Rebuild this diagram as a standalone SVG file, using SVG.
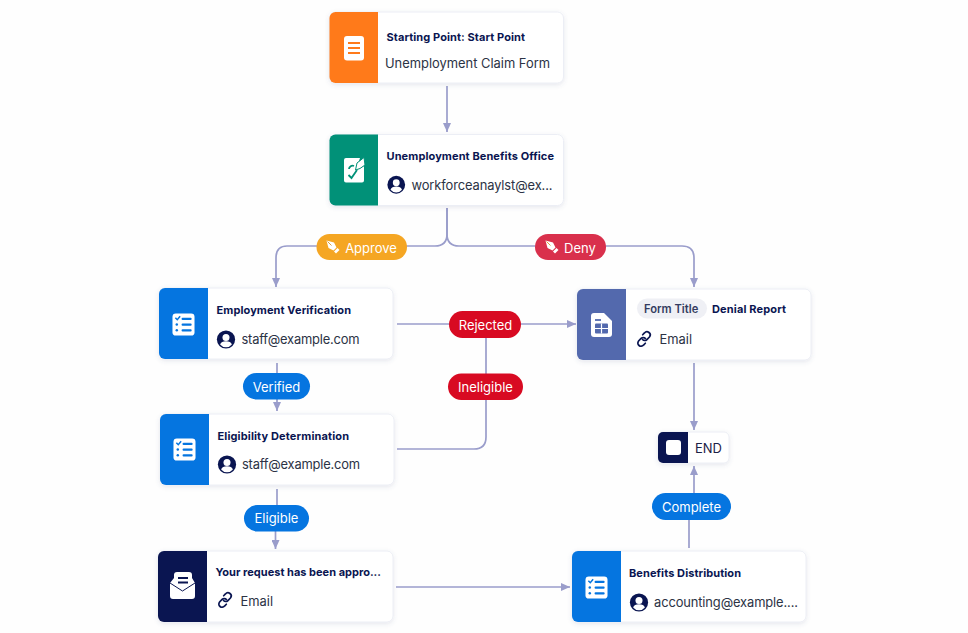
<svg xmlns="http://www.w3.org/2000/svg" width="968" height="633" viewBox="0 0 968 633">
<style>
text{font-family:"Inter","Liberation Sans",sans-serif}
.card{fill:#fff;stroke:#eceef5;stroke-width:1;filter:url(#sh)}
.t{font-size:11px;font-weight:700;fill:#0a1551}
.s{font-size:12.9px;fill:#2c3345}
.pt{font-size:13px;fill:#fff;text-anchor:middle}
.c{fill:none;stroke:#9a9dcb;stroke-width:1.7}
</style>
<defs>
<filter id="sh" x="-10%" y="-15%" width="120%" height="135%"><feDropShadow dx="0" dy="1.5" stdDeviation="2" flood-color="#54598c" flood-opacity="0.14"/></filter>
<marker id="a" markerWidth="10" markerHeight="8" refX="9" refY="4" orient="auto" markerUnits="userSpaceOnUse"><path d="M0 0L9 4L0 8Z" fill="#9a9dcb"/></marker>
<symbol id="user" viewBox="0 0 20 20" overflow="visible"><circle cx="10" cy="10" r="9.6" fill="#0a1551"/><circle cx="10" cy="7.8" r="3.7" fill="#fff"/><path d="M3.800 15.300a6.400 4.600 0 0 1 12.400 0a8 8 0 0 1-12.400 0z" fill="#fff"/></symbol>
<symbol id="link" viewBox="0 0 18 18" overflow="visible"><g fill="none" stroke="#0a1551" stroke-width="1.900" stroke-linecap="round"><path d="M7.500 4.200l2-2a3.500 3.500 0 0 1 5.600 4.600l-2.800 2.800a3.500 3.500 0 0 1-5 0"/><path d="M10.500 13.800l-2 2a3.500 3.500 0 0 1-5.600-4.600l2.800-2.800a3.500 3.500 0 0 1 5 0"/></g></symbol>
<symbol id="list" viewBox="0 0 24 24" overflow="visible"><rect x="0.500" y="0.500" width="23" height="23" rx="3.500" fill="#fff"/><path d="M3.500 5l2 2 3-3.500" fill="none" stroke="#0575e0" stroke-width="1.600"/><g fill="#0575e0"><rect x="10" y="5" width="10.500" height="2.200" rx="1"/><rect x="10" y="11" width="10.500" height="2.200" rx="1"/><rect x="10" y="17" width="10.500" height="2.200" rx="1"/><circle cx="5" cy="12" r="1.300"/><circle cx="5" cy="18" r="1.300"/></g></symbol>
<symbol id="pen" viewBox="0 0 14 14" overflow="visible"><path d="M0.500 0.500L8 2.500L10.500 7.500L7.500 10.500L2.500 8Z" fill="#fff"/><path d="M1.500 1.500L5.500 5.500" stroke="#d9a040" stroke-width="1"/><path d="M8 11.500L11.500 8L13.500 10L10 13.500Z" fill="#fff"/></symbol>
</defs>
<rect width="968" height="633" fill="#fefefe"/>
<g id="connectors">
<path class="c" marker-end="url(#a)" d="M447 86V132"/>
<path class="c" marker-end="url(#a)" d="M447 208V234Q447 246 435 246H287Q276 246 276 258V287"/>
<path class="c" marker-end="url(#a)" d="M447 208V234Q447 246 459 246H682Q694 246 694 258V287"/>
<path class="c" marker-end="url(#a)" d="M397 324H576"/>
<path class="c" d="M397 449H474Q486 449 486 437V335"/>
<path class="c" marker-end="url(#a)" d="M277 363V411"/>
<path class="c" d="M277 489V506"/>
<path class="c" marker-end="url(#a)" d="M275.500 530V549"/>
<path class="c" marker-end="url(#a)" d="M694 363V430"/>
<path class="c" d="M689 548V519"/>
<path class="c" marker-end="url(#a)" d="M694 494V466"/>
<path class="c" marker-end="url(#a)" d="M396 587H570"/>
</g>
<g id="n-start">
<rect class="card" x="329.500" y="12" width="234" height="71" rx="6"/>
<path d="M335.500 12H378V83H335.500a6 6 0 0 1-6-6V18a6 6 0 0 1 6-6z" fill="#ff7a1a"/>
<rect x="344" y="36" width="20" height="24.500" rx="3" fill="#fff"/>
<path d="M348 43H360M348 48H360M348 53H360" stroke="#ff7a1a" stroke-width="2.200"/>
<text class="t" x="386.500" y="41" textLength="138.500">Starting Point: Start Point</text>
<text class="s" x="385" y="67.500" textLength="165">Unemployment Claim Form</text>
</g>
<g id="n-office">
<rect class="card" x="329.500" y="134.500" width="234" height="71" rx="6"/>
<path d="M335.500 134.500H378V205.500H335.500a6 6 0 0 1-6-6V140.500a6 6 0 0 1 6-6z" fill="#019178"/>
<path d="M346 158H360L356 170L364 166V180.500a2 2 0 0 1-2 2H346a2 2 0 0 1-2-2V160a2 2 0 0 1 2-2Z" fill="#fff"/>
<path d="M349 169a3.500 3.500 0 0 1 5-3M348.500 175l3 3 5.500-8" fill="none" stroke="#019178" stroke-width="1.800"/>
<path d="M357 163L364 157.500L365 165L360 168.500L355.500 170Z" fill="#fff" stroke="#019178" stroke-width="1"/>
<text class="t" x="386.500" y="159.500" textLength="167.500">Unemployment Benefits Office</text>
<use href="#user" x="387" y="175.500" width="18.500" height="18.500"/>
<text class="s" x="411.500" y="190" textLength="141">workforceanaylst@ex...</text>
</g>
<g id="n-employment">
<rect class="card" x="159" y="288" width="234" height="71" rx="6"/>
<path d="M165 288H208V359H165a6 6 0 0 1-6-6V294a6 6 0 0 1 6-6z" fill="#0575e0"/>
<use href="#list" x="172" y="313" width="23" height="23"/>
<text class="t" x="216.500" y="314" textLength="134.500">Employment Verification</text>
<use href="#user" x="216.500" y="330" width="19" height="19"/>
<text class="s" x="241.500" y="344" textLength="118">staff@example.com</text>
</g>
<g id="n-eligibility">
<rect class="card" x="160" y="414" width="234" height="71" rx="6"/>
<path d="M166 414H209V485H166a6 6 0 0 1-6-6V420a6 6 0 0 1 6-6z" fill="#0575e0"/>
<use href="#list" x="173" y="438" width="23" height="23"/>
<text class="t" x="217.500" y="439.500" textLength="131.500">Eligibility Determination</text>
<use href="#user" x="217.500" y="455" width="19" height="19"/>
<text class="s" x="242" y="469" textLength="118">staff@example.com</text>
</g>
<g id="n-email">
<rect class="card" x="158" y="551" width="235" height="71" rx="6"/>
<path d="M164 551H207V622H164a6 6 0 0 1-6-6V557a6 6 0 0 1 6-6z" fill="#0a1551"/>
<path d="M170 583L174 578V575a3 3 0 0 1 3-3H189a3 3 0 0 1 3 3V578L195 583V596a3 3 0 0 1-3 3H173a3 3 0 0 1-3-3Z" fill="#fff"/>
<path d="M178 578H188M178 582.500H188" stroke="#0a1551" stroke-width="1.800"/>
<path d="M170 583L182.500 591L195 583" fill="none" stroke="#0a1551" stroke-width="1"/>
<text class="t" x="215.500" y="575.500" textLength="165.500">Your request has been appro...</text>
<use href="#link" x="217" y="592" width="16" height="16"/>
<text class="s" x="240.500" y="605.500">Email</text>
</g>
<g id="n-benefits">
<rect class="card" x="572" y="551" width="234" height="71" rx="6"/>
<path d="M578 551H621V622H578a6 6 0 0 1-6-6V557a6 6 0 0 1 6-6z" fill="#0575e0"/>
<use href="#list" x="585" y="576" width="23" height="23"/>
<text class="t" x="629" y="576.500" textLength="112">Benefits Distribution</text>
<use href="#user" x="629.500" y="593" width="19" height="19"/>
<text class="s" x="654" y="607" textLength="144">accounting@example....</text>
</g>
<g id="n-denial">
<rect class="card" x="577" y="289" width="234" height="71" rx="6"/>
<path d="M583 289H626V360H583a6 6 0 0 1-6-6V295a6 6 0 0 1 6-6z" fill="#5369ad"/>
<path d="M594 313H604L612 321V334a3 3 0 0 1-3 3H594a3 3 0 0 1-3-3V316a3 3 0 0 1 3-3Z" fill="#fff"/>
<path d="M595 320H601" stroke="#5369ad" stroke-width="1.800"/>
<rect x="595" y="323.500" width="13" height="10" rx="1" fill="#5369ad"/>
<path d="M595 328.500H608M601.500 323.500V333.500" stroke="#fff" stroke-width="1.200"/>
<rect x="637" y="298.500" width="70" height="20" rx="10" fill="#eff0f5"/>
<text x="644" y="312.500" font-size="11.200" font-weight="600" fill="#343c60">Form Title</text>
<text class="t" x="712" y="312.500" textLength="74">Denial Report</text>
<use href="#link" x="636" y="331" width="16" height="16"/>
<text class="s" x="659.500" y="343.500">Email</text>
</g>
<g id="n-end">
<rect class="card" x="658" y="432" width="71" height="31" rx="5"/>
<path d="M663 432H688V463H663a5 5 0 0 1-5-5V437a5 5 0 0 1 5-5z" fill="#0a1551"/>
<rect x="666" y="440" width="15" height="15" rx="3" fill="#fff"/>
<text x="695" y="453" font-size="13" fill="#1c2146">END</text>
</g>
<g id="labels">
<g id="l-approve"><rect x="316.500" y="234" width="90.500" height="26" rx="13" fill="#f5a623"/><use href="#pen" x="326" y="240" width="14" height="14"/><text class="pt" x="371" y="252.500">Approve</text></g>
<g id="l-deny"><rect x="535" y="234" width="71" height="26" rx="13" fill="#d9304c"/><use href="#pen" x="545" y="240" width="14" height="14"/><text class="pt" x="580" y="252.500">Deny</text></g>
<g id="l-rejected"><rect x="449" y="311" width="72" height="27" rx="13.500" fill="#d80a22"/><text class="pt" x="485.500" y="329.500">Rejected</text></g>
<g id="l-ineligible"><rect x="448" y="373.500" width="75" height="26.500" rx="13.250" fill="#d80a22"/><text class="pt" x="485.500" y="392">Ineligible</text></g>
<g id="l-verified"><rect x="243" y="373" width="67" height="26.500" rx="13.250" fill="#0575e0"/><text class="pt" x="276.500" y="391.500">Verified</text></g>
<g id="l-eligible"><rect x="244" y="505" width="65" height="26.500" rx="13.250" fill="#0575e0"/><text class="pt" x="276.500" y="523">Eligible</text></g>
<g id="l-complete"><rect x="652" y="493" width="79" height="27" rx="13.500" fill="#0575e0"/><text class="pt" x="691.500" y="512">Complete</text></g>
</g>
</svg>
